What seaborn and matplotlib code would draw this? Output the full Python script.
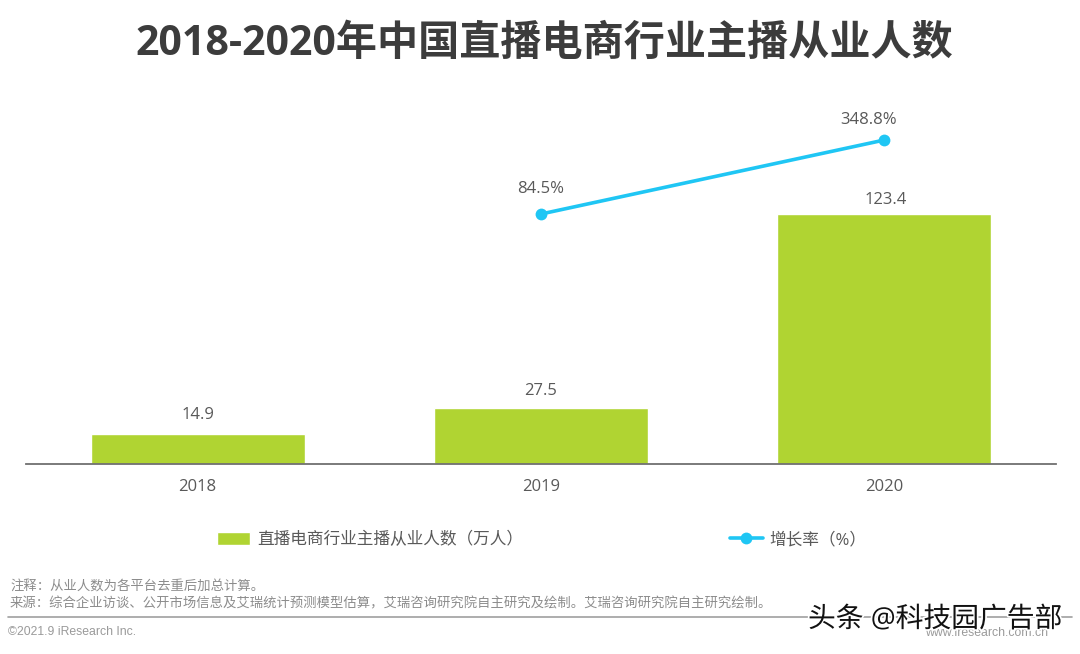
import numpy as np
import pandas as pd
import seaborn as sns
import matplotlib.pyplot as plt
import matplotlib.patheffects as pe

sns.set_theme(style='white')
plt.rcParams['font.family'] = ['Open Sans', 'Noto Sans CJK SC', 'DejaVu Sans']

years = ['2018', '2019', '2020']
anchors = [14.9, 27.5, 123.4]
growth = [np.nan, 84.5, 348.8]
anchor_labels = ['14.9', '27.5', '123.4']
growth_labels = ['', '84.5%', '348.8%']

title = '2018-2020年中国直播电商行业主播从业人数'
bar_name = '直播电商行业主播从业人数（万人）'
line_name = '增长率（%）'
note1 = '注释：从业人数为各平台去重后加总计算。'
note2 = '来源：综合企业访谈、公开市场信息及艾瑞统计预测模型估算，艾瑞咨询研究院自主研究及绘制。艾瑞咨询研究院自主研究绘制。'

W, H = 1080, 654
BAR = '#B0D432'
LINE = '#1FC6F4'
TXT = '#595959'

df = pd.DataFrame({'year': years, 'anchors': anchors, 'growth': growth})

fig = plt.figure(figsize=(W / 100, H / 100), dpi=100)
# 축 위치는 픽셀 기준으로 맞춤
ax = fig.add_axes([26 / W, 1 - 464 / H, 1030 / W, 354 / H])

sns.barplot(data=df, x='year', y='anchors', color=BAR, saturation=1, width=0.624,
            ax=ax, label=bar_name, legend=False)
ax.set_xlim(-0.5, 2.5)
ax.set_ylim(0, 174.7)
ax.set_xlabel('')
ax.set_ylabel('')
ax.set_yticks([])
ax.tick_params(axis='x', length=0, labelsize=12, labelcolor=TXT, pad=10.5)
sns.despine(ax=ax, left=True)
ax.spines['bottom'].set_color('#707070')
ax.spines['bottom'].set_linewidth(1.3)

# 라벨 오프셋 (포인트 단위)
bar_label_off = [(0, 8), (0, 7), (1, 4)]
for i, lab in enumerate(anchor_labels):
    ax.annotate(lab, (i, anchors[i]), xytext=bar_label_off[i], textcoords='offset points',
                ha='center', va='bottom', fontsize=12, color=TXT)

# 증가율은 보조축
ax2 = ax.twinx()
sns.lineplot(data=df, x='year', y='growth', color=LINE, linewidth=2.6, marker='o',
             markersize=8.5, markeredgewidth=0, ax=ax2, label=line_name)
ax2.set_ylim(-808.4, 456)
ax2.set_ylabel('')
ax2.set_yticks([])
ax2.get_legend().remove()
for s in ax2.spines.values():
    s.set_visible(False)

line_label_off = [(0, 0), (0, 12), (-11, 8.5)]
for i, lab in enumerate(growth_labels):
    if lab:
        ax2.annotate(lab, (i, growth[i]), xytext=line_label_off[i], textcoords='offset points',
                     ha='center', va='bottom', fontsize=12, color=TXT)

h1, l1 = ax.get_legend_handles_labels()
h2, l2 = ax2.get_legend_handles_labels()
leg = fig.legend(h1 + h2, l1 + l2, ncol=2, frameon=False, fontsize=12,
                 loc='center left', bbox_to_anchor=(202 / W, 1 - 540 / H),
                 handlelength=2.0, handleheight=0.8, handletextpad=0.4, columnspacing=12.4)
for t in leg.get_texts():
    t.set_color(TXT)

fig.text(544 / W, 1 - 44 / H, title, ha='center', va='center', fontsize=29.6,
         fontweight='bold', color='#3C3C3C')
fig.text(10 / W, 1 - 587 / H, note1, ha='left', va='center', fontsize=9.6, color='#8C8C8C')
fig.text(10 / W, 1 - 604 / H, note2, ha='left', va='center', fontsize=9.6, color='#8C8C8C')
fig.add_artist(plt.Line2D([8 / W, 1072 / W], [1 - 617 / H, 1 - 617 / H], color='#A0A0A0', lw=1.2))
fig.text(8 / W, 1 - 632 / H, '©2021.9 iResearch Inc.', ha='left', va='center',
         fontsize=8.8, color='#9A9A9A', family='Liberation Sans')
fig.text(1048 / W, 1 - 633 / H, 'www.iresearch.com.cn', ha='right', va='center',
         fontsize=8.8, color='#9A9A9A', family='Liberation Sans')
fig.text(808 / W, 1 - 620 / H, '头条 @科技园广告部', ha='left', va='center', fontsize=20,
         color='#111111', path_effects=[pe.withStroke(linewidth=2.5, foreground='white')])

fig.savefig('out.png', dpi=100)
